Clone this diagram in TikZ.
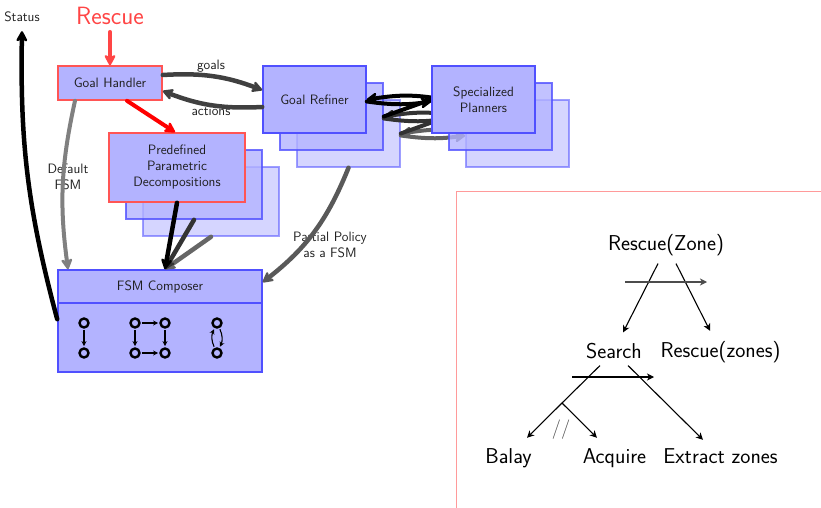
\documentclass[tikz,border=0pt]{standalone}
\usepackage{fontspec}
\usetikzlibrary{arrows.meta}
\pgfdeclarelayer{back}
\pgfdeclarelayer{mid}
\pgfsetlayers{back,mid,main}
\definecolor{boxfill}{HTML}{B3B3FF}
\definecolor{boxline}{HTML}{5050FF}
\definecolor{boxred}{HTML}{FF5555}
\definecolor{rescuered}{HTML}{FF4545}
\definecolor{framered}{HTML}{FF9A9A}
\newcommand\smallsf{\sffamily\fontsize{13.6}{16}\selectfont}
\newcommand\treesf{\sffamily\fontsize{21.5}{25}\selectfont}
\newcommand\bigsf{\sffamily\fontsize{25}{29}\selectfont}
\tikzset{
  box/.style={draw=boxline, fill=boxfill, line width=1.6pt, inner sep=0pt,
    align=center, font=\smallsf, text=black!88},
  refbox/.style={box, minimum width=103pt, minimum height=67pt},
  ppdbox/.style={box, draw=boxred, minimum width=136pt, minimum height=69pt},
  shadeone/.style={opacity=0.8},
  shadetwo/.style={opacity=0.55},
  flow/.style={line width=4.5pt, line cap=round,
    -{Stealth[length=13pt,width=14pt,inset=4pt,round]}},
  lbl/.style={font=\smallsf, align=center, text=black!88, inner sep=0pt},
  treelbl/.style={font=\treesf, inner sep=0pt, anchor=base},
  treearrow/.style={line width=1.1pt, -{Stealth[length=7pt,width=7pt,inset=2pt]}},
  fsmstate/.style={circle, draw=black, line width=2.4pt, minimum size=9pt, inner sep=0pt},
  fsmarrow/.style={line width=1.1pt, shorten >=1.2pt, shorten <=1.2pt,
    -{Stealth[length=5pt,width=5pt,inset=1.5pt]}},
}
\begin{document}
\begin{tikzpicture}[x=1pt,y=1pt]
\useasboundingbox (0,0) rectangle (821,-508);

% goal refiner stack (bottom layer)
\begin{pgfonlayer}{back}
  \node[refbox, shadetwo] (gr2) at (348.5,-133.5) {};
  \node[refbox, shadeone] (gr1) at (331.5,-116.5) {};
  \node[refbox] (gr0) at (314.5,-99.5) {Goal Refiner};
\end{pgfonlayer}

% specialized planners stack
\node[refbox, shadetwo] (sp2) at (517.5,-133.5) {};
\node[refbox, shadeone] (sp1) at (500.5,-116.5) {};
\node[refbox] (sp0) at (483.5,-99.5) {Specialized\\Planners};

% requests and answers between refiner and planners
\begin{pgfonlayer}{mid}
  \draw[flow, line width=4pt, draw=black!62] ([yshift=2]sp2.west) to[out=172,in=8] (gr2.east);
  \draw[flow, line width=4pt, draw=black!62] ([yshift=-2]gr2.east) to[out=-8,in=188] ([yshift=-2]sp2.west);
  \draw[line width=4pt, line cap=round, draw=black!80] (sp1.west) -- (gr2.east);
  \draw[flow, line width=4pt, draw=black!80] ([yshift=2]sp1.west) to[out=172,in=8] (gr1.east);
  \draw[flow, line width=4pt, draw=black!80] ([yshift=-2]gr1.east) to[out=-8,in=188] ([yshift=-2]sp1.west);
  \draw[line width=4pt, line cap=round, draw=black] (sp0.west) -- (gr1.east);
  \draw[flow, line width=4pt, draw=black] ([yshift=2]sp0.west) to[out=172,in=8] (gr0.east);
  \draw[flow, line width=4pt, draw=black] ([yshift=-2]gr0.east) to[out=-8,in=188] ([yshift=-2]sp0.west);
\end{pgfonlayer}

% goal handler and decompositions
\node[box, draw=boxred, minimum width=104pt, minimum height=34pt] (gh) at (110,-83) {Goal Handler};
\node[ppdbox, draw=boxline, shadetwo] (ppd2) at (211,-201.5) {};
\node[ppdbox, draw=boxline, shadeone] (ppd1) at (194,-184.5) {};
\node[ppdbox] (ppd0) at (177,-167.5) {Predefined\\Parametric\\Decompositions};

% FSM composer
\node[box, minimum width=204pt, minimum height=102pt] (fsm) at (160,-321) {};
\draw[boxline, line width=1.6pt] ([yshift=-34]fsm.north west) -- ([yshift=-34]fsm.north east);
\node[lbl] (fsmtitle) at (160,-287) {FSM Composer};
\node[fsmstate] (s1) at (84,-323) {};
\node[fsmstate] (s2) at (84,-353) {};
\node[fsmstate] (s3) at (135,-323) {};
\node[fsmstate] (s4) at (135,-353) {};
\node[fsmstate] (s5) at (165,-323) {};
\node[fsmstate] (s6) at (165,-353) {};
\node[fsmstate] (s7) at (217,-323) {};
\node[fsmstate] (s8) at (217,-353) {};
\draw[fsmarrow] (s1) -- (s2);
\draw[fsmarrow] (s3) -- (s4);
\draw[fsmarrow] (s3) -- (s5);
\draw[fsmarrow] (s5) -- (s6);
\draw[fsmarrow] (s4) -- (s6);
\draw[fsmarrow] (s7) to[bend left=25] (s8);
\draw[fsmarrow] (s8) to[bend left=25] (s7);

% labels
\node[lbl] (status) at (22,-17) {Status};
\node[font=\bigsf, text=rescuered, inner sep=0pt] (rescue) at (110,-16) {Rescue};
\node[lbl] (goals) at (211,-66) {goals};
\node[lbl] (actions) at (211,-111) {actions};
\node[lbl] (deffsm) at (68,-177) {Default\\FSM};
\node[lbl] (partial) at (330,-245) {Partial Policy\\as a FSM};

% flows
\draw[flow, line width=4pt, draw=rescuered, shorten <=7pt] (rescue.south) -- (gh.north);
\draw[flow, line width=4pt, draw=red] ([xshift=17]gh.south) -- ([xshift=-2]ppd0.north);
\draw[flow, draw=black!75] ([yshift=8]gh.east) to[bend left=12] ([yshift=9.5]gr0.west);
\draw[flow, draw=black!75] ([yshift=-7.5]gr0.west) to[bend left=12] ([yshift=-8]gh.east);
\draw[flow, line width=4pt, draw=black!50] ([xshift=-35]gh.south) to[bend right=10] ([xshift=-92]fsm.north);
\draw[flow, draw=black!65] (gr2.south) to[out=-112,in=38] ([yshift=-13]fsm.north east);
\draw[flow, draw=black!60] (ppd2.south) -- ([xshift=5]fsm.north);
\draw[flow, draw=black!80] (ppd1.south) -- ([xshift=5]fsm.north);
\draw[flow, draw=black] (ppd0.south) -- ([xshift=5]fsm.north);
\draw[flow, draw=black] ([yshift=-50]fsm.north west) to[bend left=8] ([yshift=-9]status.south);

% task decomposition panel
\draw[framered, line width=1pt] (456,-508) -- (456,-191) -- (821,-191);
\node[treelbl] (rz) at (666,-250) {Rescue(Zone)};
\node[treelbl] (srch) at (614,-358) {Search};
\node[treelbl] (rzs) at (720.5,-357) {Rescue(zones)};
\node[treelbl] (balay) at (508.5,-463) {Balay};
\node[treelbl] (acq) at (614.5,-463) {Acquire};
\node[treelbl] (extr) at (720.5,-463) {Extract zones};
\node[font=\sffamily\fontsize{19.5}{22}\selectfont, text=black!70, inner sep=0pt] (par) at (561,-429.5) {//};
\coordinate (fork) at (562,-403);
\coordinate (ordA) at (625,-282);
\coordinate (ordB) at (707,-282);
\coordinate (ordC) at (572,-377);
\coordinate (ordD) at (654,-377);
\draw[treearrow] ([shift={(-8,-8)}]rz.south) -- ([shift={(9,10.1)}]srch.north);
\draw[treearrow] ([shift={(10,-8)}]rz.south) -- ([shift={(-10.5,9.9)}]rzs.north);
\draw[line width=1.1pt] ([shift={(-14,-7)}]srch.south) -- (fork);
\draw[treearrow] (fork) -- ([shift={(18.5,10.1)}]balay.north);
\draw[treearrow] (fork) -- ([shift={(-17.5,10.1)}]acq.north);
\draw[treearrow] ([shift={(14,-7)}]srch.south) -- ([shift={(-17.5,8.1)}]extr.north);
\draw[treearrow, draw=black!70, line width=1.4pt] (ordA) -- (ordB);
\draw[treearrow] (ordC) -- (ordD);
\end{tikzpicture}
\end{document}
